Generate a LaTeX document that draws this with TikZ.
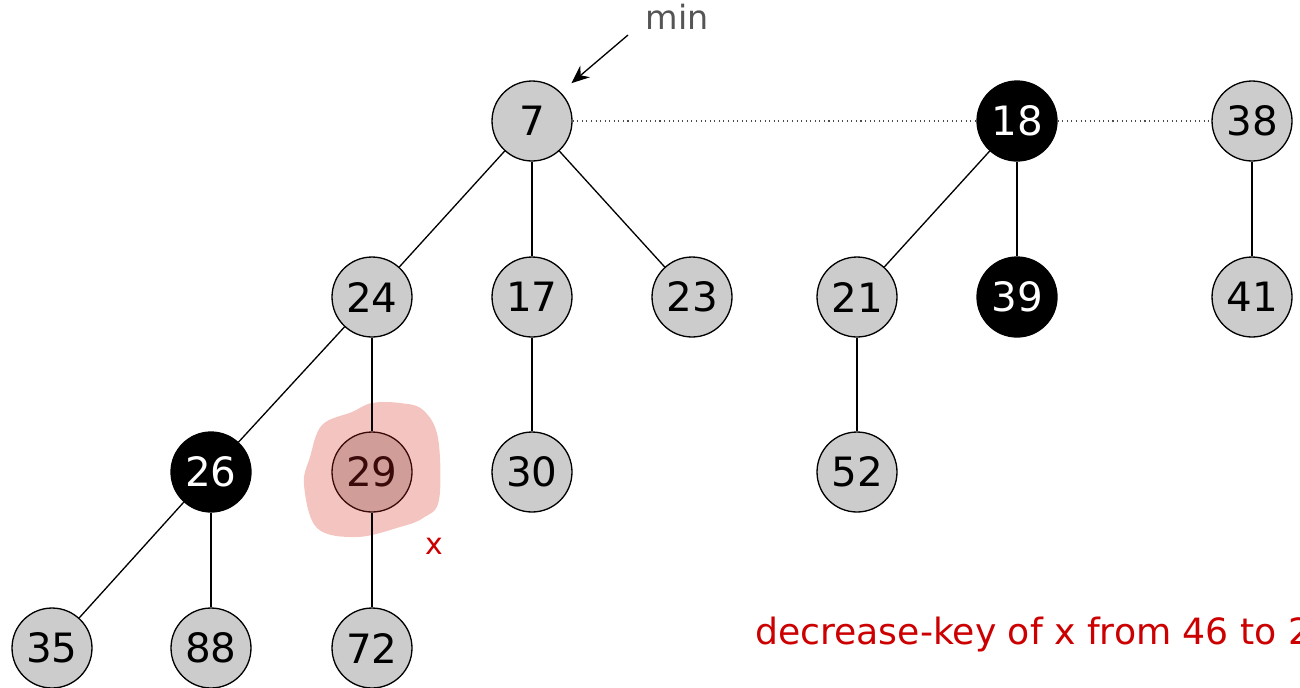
\documentclass[tikz,border=0pt]{standalone}
\usepackage{fontspec}
\setmainfont{DejaVu Sans}
\usetikzlibrary{arrows.meta}
\definecolor{keyfill}{HTML}{CCCCCC}
\definecolor{hlfill}{HTML}{D09D98}
\definecolor{hldraw}{HTML}{3A0A0A}
\definecolor{blobfill}{HTML}{F4C5C0}
\definecolor{notered}{HTML}{CC0000}
\definecolor{mingray}{HTML}{555555}

\begin{document}
\begin{tikzpicture}[
    x=0.02cm, y=-0.02cm,
    font=\fontsize{23}{26}\selectfont,
    key/.style={circle, draw=black, fill=keyfill, line width=0.75pt,
                minimum size=1.6cm, inner sep=0pt},
    marked/.style={key, fill=black, text=white},
    hit/.style={key, fill=hlfill, draw=hldraw, text=hldraw},
    edge/.style={draw=black, line width=0.75pt},
    rootlist/.style={draw=black!70, line width=0.6pt, dotted},
    note/.style={text=notered, anchor=base west},
]
\useasboundingbox (0,0) rectangle (1300,687);
\clip (0,0) rectangle (1300,687);

% ---------------- highlight behind x ----------------
\fill[blobfill] plot[smooth cycle, tension=0.6] coordinates {
  (322,425) (352,412) (372,403) (400,403) (423,410) (438,438)
  (439,500) (423,518) (400,527) (357,537) (317,528) (304,485) (310,457)};

% ---------------- root list ----------------
\node[key] (k7) at (532,121) {7};
\node[marked] (k18) at (1017,121) {18};
\node[key] (k38) at (1252,121) {38};

% ---------------- children ----------------
\node[key] (k24) at (372,297) {24};
\node[key] (k17) at (532,297) {17};
\node[key] (k23) at (692,297) {23};
\node[key] (k21) at (857,297) {21};
\node[marked] (k39) at (1017,297) {39};
\node[key] (k41) at (1252,297) {41};

\node[marked] (k26) at (211,472) {26};
\node[hit] (k29) at (372,472) {29};
\node[key] (k30) at (532,472) {30};
\node[key] (k52) at (857,472) {52};

\node[key] (k35) at (52,648) {35};
\node[key] (k88) at (211,648) {88};
\node[key] (k72) at (372,648) {72};

\foreach \a/\b in {k7/k24, k7/k17, k7/k23, k18/k21, k18/k39, k38/k41,
                   k24/k26, k17/k30, k21/k52, k26/k35, k26/k88}
  \draw[edge] (\a) -- (\b);
\draw[edge] (k24) -- (k29);
\draw[edge] (k29) -- (k72);

\draw[rootlist] (k7) -- (k18);
\draw[rootlist] (k18) -- (k38);

% ---------------- labels ----------------
\node[text=mingray, font=\fontsize{19}{22}\selectfont] (minlbl) at (677,17) {min};
\coordinate (mintail) at (628,35);
\draw[edge, shorten >=2.8mm, -{Stealth[length=3.6mm, width=3mm]}]
  (mintail) -- (k7.north east);

\node[note, font=\fontsize{17}{20}\selectfont] (xlbl) at (419,554) {x};
\node[note, font=\fontsize{20.6}{24}\selectfont] (task) at (749,644)
  {decrease-key of x from 46 to 29};

\end{tikzpicture}
\end{document}
